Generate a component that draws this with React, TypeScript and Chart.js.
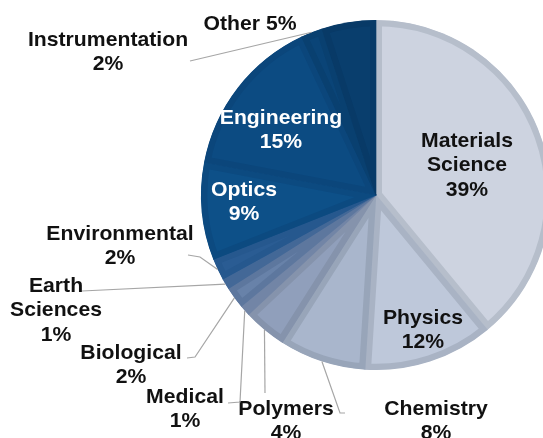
import React, { useEffect, useRef } from "react";
import { Chart, registerables } from "chart.js";

Chart.register(...registerables);

const categories = [
  "Materials Science",
  "Physics",
  "Chemistry",
  "Polymers",
  "Medical",
  "Biological",
  "Earth Sciences",
  "Environmental",
  "Optics",
  "Engineering",
  "Instrumentation",
  "Other",
];
const shares = [39, 12, 8, 4, 1, 2, 1, 2, 9, 15, 2, 5];
const labelLines = [
  ["Materials", "Science", "39%"],
  ["Physics", "12%"],
  ["Chemistry", "8%"],
  ["Polymers", "4%"],
  ["Medical", "1%"],
  ["Biological", "2%"],
  ["Earth", "Sciences", "1%"],
  ["Environmental", "2%"],
  ["Optics", "9%"],
  ["Engineering", "15%"],
  ["Instrumentation", "2%"],
  ["Other 5%"],
];

const fills = [
  "#cdd3e0", "#bec8da", "#a9b6cc", "#909fbb", "#7d90b2", "#6882a9",
  "#4a6d9d", "#2a5c93", "#0d5088", "#0c4b82", "#0a4477", "#093e6d",
];
const borders = [
  "#b6becb", "#a9b3c4", "#98a5b9", "#8593ac", "#7285a6", "#5d779e",
  "#436897", "#26588e", "#0c4a80", "#0b467b", "#094070", "#083a67",
];

// label layout: offsets from pie centre (px), text colour, leader polyline
const labelLayout = [
  { dx: 91, dy: -54, color: "#111", leader: null },
  { dx: 47, dy: 123, color: "#111", leader: null },
  { dx: 60, dy: 214, color: "#111", leader: [[-36, 218], [-31, 218]] },
  { dx: -90, dy: 214, color: "#111", leader: [[-111, 198]] },
  { dx: -191, dy: 202, color: "#111", leader: [[-136, 207], [-148, 208]] },
  { dx: -245, dy: 158, color: "#111", leader: [[-181, 162], [-189, 163]] },
  { dx: -320, dy: 91, color: "#111", leader: [[-294, 96]] },
  { dx: -256, dy: 39, color: "#111", leader: [[-176, 62], [-188, 60]] },
  { dx: -132, dy: -5, color: "#ffffff", leader: null },
  { dx: -95, dy: -77, color: "#ffffff", leader: null },
  { dx: -268, dy: -155, color: "#111", leader: [[-186, -134]] },
  { dx: -126, dy: -171, color: "#111", leader: null },
];

const labelPlugin = {
  id: "pieLabels",
  afterDraw(chart: any) {
    const ctx = chart.ctx;
    const meta = chart.getDatasetMeta(0);
    ctx.save();
    meta.data.forEach((arc: any, i: number) => {
      const { x, y, startAngle, endAngle, outerRadius } = arc.getProps(
        ["x", "y", "startAngle", "endAngle", "outerRadius"],
        true
      );
      const L = labelLayout[i];
      if (L.leader) {
        const mid = (startAngle + endAngle) / 2;
        ctx.beginPath();
        ctx.strokeStyle = "#a6a6a6";
        ctx.lineWidth = 1.2;
        ctx.moveTo(x + Math.cos(mid) * outerRadius, y + Math.sin(mid) * outerRadius);
        L.leader.forEach((p: number[]) => ctx.lineTo(x + p[0], y + p[1]));
        ctx.stroke();
      }
      ctx.fillStyle = L.color;
      ctx.font = "bold 20px 'Liberation Sans', Arial, sans-serif";
      ctx.textAlign = "center";
      ctx.textBaseline = "middle";
      labelLines[i].forEach((t, k) => {
        ctx.save();
        ctx.translate(x + L.dx, y + L.dy + k * 24.5);
        ctx.scale(1.06, 1.03);
        ctx.fillText(t, 0, 0);
        ctx.restore();
      });
    });
    ctx.restore();
  },
};

export default function App() {
  const ref = useRef<HTMLCanvasElement>(null);
  useEffect(() => {
    if (!ref.current) return;
    const chart = new Chart(ref.current, {
      type: "pie",
      data: {
        labels: categories,
        datasets: [
          {
            data: shares,
            backgroundColor: fills,
            borderColor: borders,
            borderWidth: 6,
            borderAlign: "inner",
          },
        ],
      },
      options: {
        responsive: false,
        animation: false,
        layout: { padding: { left: 201, right: 9, top: 20, bottom: 68 } },
        plugins: {
          legend: { display: false },
          tooltip: { enabled: false },
        },
      },
      plugins: [labelPlugin],
    });
    return () => chart.destroy();
  }, []);
  return (
    <div
      style={{
        position: "fixed",
        left: 0,
        top: 0,
        width: 543,
        height: 438,
        overflow: "hidden",
        background: "#fff",
      }}
    >
      <canvas ref={ref} width={560} height={438} style={{ width: 560, height: 438, display: "block" }} />
    </div>
  );
}
